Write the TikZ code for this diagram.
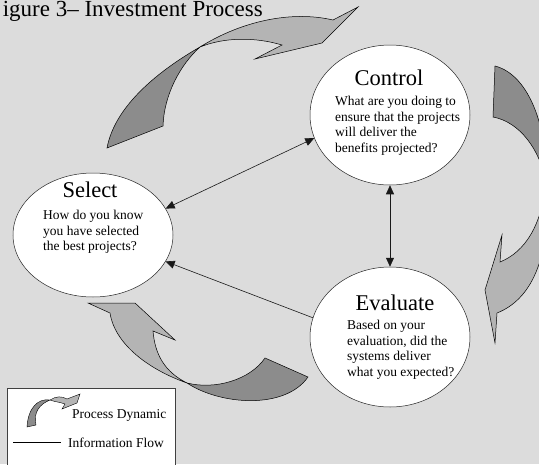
\documentclass[tikz,border=0pt]{standalone}
\usepackage{fontspec}
\setmainfont{Liberation Serif}
\usetikzlibrary{shapes.geometric,arrows.meta}
\definecolor{bg}{HTML}{DCDCDC}
\definecolor{darkband}{HTML}{8C8C8C}
\definecolor{lightband}{HTML}{B4B4B4}
\begin{document}
\begin{tikzpicture}[x=1pt,y=-1pt,
  phase/.style={ellipse, draw=black!85, fill=white, line width=0.5pt, inner sep=0pt},
  ttl/.style={font=\fontsize{22.5}{27}\selectfont, inner sep=0pt, anchor=base},
  body/.style={font=\fontsize{13.5}{15.6}\selectfont, align=left, inner sep=0pt, anchor=north west},
  legtext/.style={font=\fontsize{13.5}{15.6}\selectfont, inner sep=0pt, anchor=base west},
  tip/.tip={Triangle[length=9pt,width=8pt]},
  flow/.style={line width=0.6pt, draw=black!90},
  darkpart/.style={fill=darkband, draw=black, line width=0.5pt},
  lightpart/.style={fill=lightband, draw=black, line width=0.5pt}]
\useasboundingbox (0,0) rectangle (539,464);
\fill[bg] (0,0) rectangle (539,464);

% title (as far as the picture shows it)
\node[anchor=base east, font=\fontsize{23}{27}\selectfont, inner sep=0pt] (title) at (263,16.5) {igure 3– Investment Process};

% process dynamic arrows
% top-left (Select -> Control)
\path[darkpart] (107,148) -- (163,126) .. controls (164,95) and (180,65) .. (200,47)
  .. controls (160,70) and (115,105) .. (107,148) -- cycle;
\path[lightpart] (200,47) .. controls (240,22) and (290,10) .. (333,20) -- (358,7) -- (322,43) -- (255,59) -- (282,45)
  .. controls (255,37) and (225,37) .. (200,47) -- cycle;
% right (Control -> Evaluate)
\path[darkpart] (495,66) -- (493,117) .. controls (520,122) and (540,150) .. (546,182)
  .. controls (548,130) and (530,75) .. (495,66) -- cycle;
\path[lightpart] (546,182) .. controls (542,225) and (525,252) .. (500,262) -- (502,235) -- (485,290) -- (495,343) -- (497,313)
  .. controls (530,300) and (552,260) .. (546,182) -- cycle;
% bottom-left (Evaluate -> Select)
\path[lightpart] (88,303) -- (135,303) -- (175,340) -- (153,331) .. controls (155,355) and (165,372) .. (187,383)
  .. controls (150,370) and (115,345) .. (110,313) -- cycle;
\path[darkpart] (187,383) .. controls (220,405) and (285,410) .. (308,377) -- (265,358)
  .. controls (250,380) and (215,390) .. (187,383) -- cycle;

% phases
\node[phase, minimum width=160pt, minimum height=140pt] (ctrl) at (390,115) {};
\node[phase, minimum width=160pt, minimum height=124pt] (sel) at (93,235) {};
\node[phase, minimum width=160pt, minimum height=140pt] (eval) at (390,337) {};

\node[ttl] (ctrlT) at (389,85) {Control};
\node[body] (ctrlB) at (335,96) {What are you doing to\\ensure that the projects\\will deliver the\\benefits projected?};
\node[ttl] (selT) at (90,197) {Select};
\node[body] (selB) at (43,210) {How do you know\\you have selected\\the best projects?};
\node[ttl] (evalT) at (395,310) {Evaluate};
\node[body] (evalB) at (347,320) {Based on your\\evaluation, did the\\systems deliver\\what you expected?};

% information flows
\draw[flow, tip-tip] (sel.20) -- (ctrl.197);
\draw[flow, tip-tip] (ctrl.south) -- (eval.north);
\draw[flow, -tip] (eval.166) -- (sel.-20);

% legend
\node[draw=black!75, fill=white, line width=0.5pt, minimum width=168pt, minimum height=90pt, anchor=north west, inner sep=0pt] (legend) at (7,388) {};
\path[darkpart, line width=0.4pt] (27,427) -- (36,425) .. controls (33,412) and (40,404) .. (50,400)
  .. controls (38,398) and (28,408) .. (27,427) -- cycle;
\path[lightpart, line width=0.4pt] (50,400) .. controls (56,396) and (62,396) .. (67,399) -- (80,394) -- (77,403) -- (62,409) -- (65,404)
  .. controls (60,402) and (55,402) .. (50,400) -- cycle;
\node[legtext] (legPD) at (72,418) {Process Dynamic};
\coordinate (legA) at (13,442);
\coordinate (legB) at (61,442);
\draw[black, line width=0.6pt] (legA) -- (legB);
\node[legtext] (legIF) at (68,447) {Information Flow};
\end{tikzpicture}
\end{document}
